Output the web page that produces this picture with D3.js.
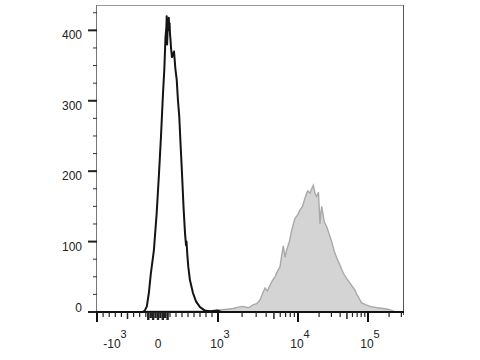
<!DOCTYPE html>
<html>
<head>
<meta charset="utf-8">
<script src="https://cdn.jsdelivr.net/npm/d3@7"></script>
<style>
  body { margin: 0; background: #fff; }
  svg { display: block; font-family: "Liberation Sans", Arial, sans-serif; }
</style>
</head>
<body>
<svg id="chart" width="480" height="360"></svg>
<script>
// unstained / isotype control (black outline)
const ctrlX = [-300, -250, -217, -183, -150, -117, -67, -22, 17, 50, 83, 105, 125, 140, 145, 152, 158, 165, 172, 180, 187, 193, 200, 210, 217, 233, 250, 267, 290, 312, 333, 355, 375, 395, 425, 450, 467, 475, 490, 505, 533, 583, 633, 700, 783, 867, 1000, 1100];
const ctrlY = [0, 0, 2, 8, 27, 55, 88, 140, 197, 250, 310, 344, 390, 405, 420, 380, 395, 415, 400, 418, 400, 410, 395, 385, 375, 362, 366, 370, 345, 330, 300, 277, 240, 206, 150, 112, 95, 100, 80, 64, 45, 27, 15, 7, 2, 1, 2, 0];

// stained sample (grey filled)
const stainX = [-300, -150, 0, 300, 700, 900, 1059, 1300, 1540, 1800, 2054, 2400, 2738, 3050, 3350, 3600, 3870, 4150, 4467, 4800, 5157, 5550, 5957, 6250, 6550, 6900, 7220, 7800, 8340, 8750, 9173, 9900, 10680, 11600, 12590, 13700, 14850, 15700, 16560, 17500, 18490, 19600, 20620, 21200, 21810, 23700, 25720, 28000, 30290, 33000, 35730, 40000, 44380, 50000, 55330, 60000, 65220, 69000, 72670, 77000, 81280, 94000, 106800, 135000, 163800, 193000, 220000, 250000];
const stainY = [0, 1, 1, 1, 1, 2, 3, 4, 5, 7, 8, 6, 10, 12, 17, 26, 34, 30, 38, 45, 50, 58, 64, 80, 94, 78, 88, 100, 116, 125, 133, 138, 145, 150, 162, 172, 169, 175, 180, 168, 164, 170, 125, 140, 150, 128, 121, 110, 100, 86, 77, 66, 55, 47, 41, 36, 31, 25, 22, 17, 13, 10, 8, 6, 5, 4, 2, 0];

const yMajor = [0, 100, 200, 300, 400];
const yMinor = d3.range(0, 426, 25);

const xMajor = [-1000, 1000, 10000, 100000];
const xMid = [-500, 5000, 50000];
const xMinor = [-900, -800, -700, -600, -400, -300, -200, -100, 100, 200, 300, 400, 500, 600, 700, 800, 900,
  2000, 3000, 4000, 6000, 7000, 8000, 9000, 20000, 30000, 40000, 60000, 70000, 80000, 90000, 200000, 300000];
const xZero = [-160, -120, -80, -40, 0, 40, 80, 120, 160];
const xLabels = [
  { v: -1000, base: "-10", exp: "3" },
  { v: 0, base: "0", exp: "" },
  { v: 1000, base: "10", exp: "3" },
  { v: 10000, base: "10", exp: "4" },
  { v: 100000, base: "10", exp: "5" }
];

const mLeft = 97, mRight = 404, mTop = 5, mBottom = 312;
const svg = d3.select("#chart");

// logicle-like display: linear around 0, log above 10^3
function tf(v) {
  if (Math.abs(v) <= 1000) return v / 1000;
  return Math.sign(v) * (1 + Math.log10(Math.abs(v) / 1000));
}
const xs = d3.scaleLinear().domain([-1, 0, 1, 2, 3]).range([mLeft, 158, 218, 298, 368]).clamp(false);
const x = v => {
  let t = tf(v);
  if (t > 3) return xs(3) + (t - 3) * 70;
  return xs(t);
};
const y = d3.scaleLinear().domain([0, 436]).range([mBottom, mTop]);

// frame
svg.append("line").attr("x1", mLeft).attr("x2", mRight).attr("y1", mTop + 0.5).attr("y2", mTop + 0.5)
  .attr("stroke", "#9a9a9a").attr("stroke-width", 1);
svg.append("line").attr("x1", mRight - 0.5).attr("x2", mRight - 0.5).attr("y1", mTop).attr("y2", mBottom + 3)
  .attr("stroke", "#555").attr("stroke-width", 1);

// histograms
const area = d3.area()
  .x(d => x(d[0]))
  .y0(y(0))
  .y1(d => y(d[1]));
const line = d3.line()
  .x(d => x(d[0]))
  .y(d => y(d[1]));

const stain = stainX.map((v, i) => [v, stainY[i]]);
const ctrl = ctrlX.map((v, i) => [v, ctrlY[i]]);

svg.append("path").datum(stain).attr("d", area).attr("fill", "#d4d4d4");
svg.append("path").datum(stain).attr("d", line).attr("fill", "none")
  .attr("stroke", "#a9a9a9").attr("stroke-width", 1.4);
svg.append("path").datum(ctrl).attr("d", line).attr("fill", "none")
  .attr("stroke", "#141414").attr("stroke-width", 2).attr("stroke-linejoin", "round");

// y axis
svg.append("line").attr("x1", mLeft - 0.5).attr("x2", mLeft - 0.5).attr("y1", mTop).attr("y2", mBottom)
  .attr("stroke", "#777").attr("stroke-width", 1);
svg.append("g").selectAll("line").data(yMinor).join("line")
  .attr("x1", mLeft - 4).attr("x2", mLeft).attr("y1", d => y(d)).attr("y2", d => y(d))
  .attr("stroke", "#333").attr("stroke-width", 1);
svg.append("g").selectAll("line").data(yMajor).join("line")
  .attr("x1", mLeft - 9).attr("x2", mLeft).attr("y1", d => y(d)).attr("y2", d => y(d))
  .attr("stroke", "#222").attr("stroke-width", 2);
svg.append("g").selectAll("text").data(yMajor).join("text")
  .attr("x", 82).attr("y", d => d === 0 ? y(d) - 0.5 : y(d) + 9)
  .attr("text-anchor", "end").attr("font-size", 12).attr("fill", "#222")
  .text(d => d);

// x axis
svg.append("line").attr("x1", mLeft - 1).attr("x2", mRight).attr("y1", mBottom).attr("y2", mBottom)
  .attr("stroke", "#111").attr("stroke-width", 2);
const gx = svg.append("g");
gx.selectAll(".minor").data(xMinor).join("line").attr("class", "minor")
  .attr("x1", d => x(d)).attr("x2", d => x(d)).attr("y1", mBottom).attr("y2", mBottom + 5)
  .attr("stroke", "#222").attr("stroke-width", 1.2);
gx.selectAll(".mid").data(xMid).join("line").attr("class", "mid")
  .attr("x1", d => x(d)).attr("x2", d => x(d)).attr("y1", mBottom).attr("y2", mBottom + 7)
  .attr("stroke", "#222").attr("stroke-width", 1.5);
gx.selectAll(".zero").data(xZero).join("line").attr("class", "zero")
  .attr("x1", d => x(d)).attr("x2", d => x(d)).attr("y1", mBottom).attr("y2", (d, i) => mBottom + (i % 2 ? 6 : 8))
  .attr("stroke", "#222").attr("stroke-width", 2.4);
gx.selectAll(".major").data(xMajor).join("line").attr("class", "major")
  .attr("x1", d => x(d)).attr("x2", d => x(d)).attr("y1", mBottom).attr("y2", mBottom + 10)
  .attr("stroke", "#111").attr("stroke-width", 2);

const lab = gx.selectAll(".lab").data(xLabels).join("text").attr("class", "lab")
  .attr("x", d => Math.max(x(d.v) + (d.exp ? 2 : 0), mLeft + 18))
  .attr("y", 348).attr("text-anchor", "middle").attr("font-size", 12).attr("fill", "#222");
lab.append("tspan").text(d => d.base);
lab.append("tspan").attr("dy", -10).attr("font-size", 11).text(d => d.exp);
</script>
</body>
</html>
